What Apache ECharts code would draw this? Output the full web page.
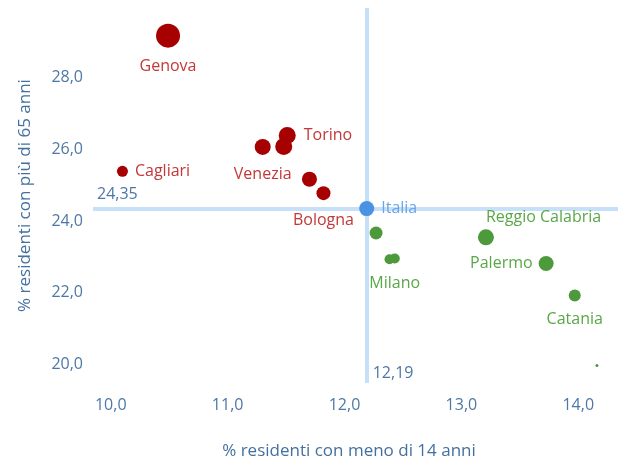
<!DOCTYPE html>
<html>
<head>
<meta charset="utf-8">
<script src="https://cdn.jsdelivr.net/npm/echarts@6/dist/echarts.min.js"></script>
<style>
  html, body { margin: 0; padding: 0; background: #fff; }
</style>
</head>
<body>
<div id="chart" style="width:618px;height:465px;"></div>
<script>
// % under 14 (x), % over 65 (y), marker size, label
var redX = [10.49, 11.51, 11.48, 11.30, 10.10, 11.70, 11.82];
var redY = [29.17, 26.39, 26.08, 26.07, 25.39, 25.17, 24.78];
var redSize = [24, 17, 17, 16, 11, 15, 14];
var redNames = ['Genova', 'Torino', '', 'Venezia', 'Cagliari', '', 'Bologna'];

var greenX = [12.27, 12.385, 12.43, 13.21, 13.725, 13.97, 14.16];
var greenY = [23.67, 22.94, 22.96, 23.55, 22.82, 21.93, 19.98];
var greenSize = [13, 10, 10, 16, 15, 12, 3];
var greenNames = ['', '', 'Milano', 'Reggio Calabria', 'Palermo', 'Catania', ''];

var italia = [12.19, 24.35];
var refX = 12.19;
var refY = 24.35;

var xTicks = [10, 11, 12, 13, 14];
var yTicks = [20, 22, 24, 26, 28];

var fmt = function (v) { return v.toFixed(1).replace('.', ','); };
var fmt2 = function (v) { return v.toFixed(2).replace('.', ','); };

var labelPos = {
  'Genova': { position: 'bottom', distance: 11 },
  'Torino': { position: 'right', distance: 8 },
  'Venezia': { position: 'bottom', distance: 12 },
  'Cagliari': { position: 'right', distance: 7 },
  'Bologna': { position: 'bottom', distance: 12 },
  'Milano': { position: 'bottom', distance: 12 },
  'Reggio Calabria': { position: 'top', align: 'left', distance: 4 },
  'Palermo': { position: 'left', distance: 6 },
  'Catania': { position: 'bottom', distance: 10 }
};

function build(xs, ys, sizes, names, labelColor) {
  return xs.map(function (x, i) {
    var item = { value: [x, ys[i]], symbolSize: sizes[i], name: names[i] };
    if (names[i]) {
      var p = labelPos[names[i]];
      item.label = Object.assign({ show: true, color: labelColor, formatter: '{b}' }, p);
    }
    return item;
  });
}

var font = 'Open Sans';
var chart = echarts.init(document.getElementById('chart'));
chart.setOption({
  animation: false,
  textStyle: { fontFamily: font },
  grid: { left: 93, right: 0, top: 8, bottom: 80 },
  xAxis: {
    type: 'value',
    min: 9.848,
    max: 14.34,
    splitLine: { show: false },
    axisLine: { show: false },
    axisTick: { show: false },
    axisLabel: {
      customValues: xTicks,
      formatter: fmt,
      color: '#4d78a6',
      fontSize: 16,
      fontFamily: font,
      margin: 14
    },
    name: '% residenti con meno di 14 anni',
    nameLocation: 'middle',
    nameGap: 60,
    nameTextStyle: { color: '#44709f', fontSize: 17, fontFamily: font, padding: [0, 13, 0, 0] }
  },
  yAxis: {
    type: 'value',
    min: 19.49,
    max: 29.94,
    splitLine: { show: false },
    axisLine: { show: false },
    axisTick: { show: false },
    axisLabel: {
      customValues: yTicks,
      formatter: fmt,
      color: '#4d78a6',
      fontSize: 16,
      fontFamily: font,
      margin: 10
    },
    name: '% residenti con più di 65 anni',
    nameLocation: 'middle',
    nameGap: 59,
    nameTextStyle: { color: '#44709f', fontSize: 17, fontFamily: font }
  },
  series: [
    {
      type: 'scatter',
      data: [],
      z: 1,
      silent: true,
      markLine: {
        silent: true,
        z: 1,
        symbol: 'none',
        lineStyle: { color: '#c6e0f7', width: 4, type: 'solid' },
        data: [
          {
            yAxis: refY,
            label: {
              show: true,
              position: 'insideStartTop',
              formatter: fmt2(refY),
              color: '#4d78a6',
              fontSize: 16,
              fontFamily: font,
              distance: [4, 6]
            }
          },
          { xAxis: refX, label: { show: false } }
        ]
      },
      markPoint: {
        z: 1,
        symbol: 'circle',
        symbolSize: 0,
        data: [
          {
            coord: [refX, 19.77],
            label: {
              show: true,
              position: 'right',
              distance: 6,
              formatter: fmt2(refX),
              color: '#4d78a6',
              fontSize: 16,
              fontFamily: font
            }
          }
        ]
      }
    },
    {
      type: 'scatter',
      z: 3,
      itemStyle: { color: '#a60000', opacity: 1 },
      label: { fontSize: 16, fontFamily: font },
      data: build(redX, redY, redSize, redNames, '#c23838')
    },
    {
      type: 'scatter',
      z: 3,
      itemStyle: { color: '#4c9a3b', opacity: 1 },
      label: { fontSize: 16, fontFamily: font },
      data: build(greenX, greenY, greenSize, greenNames, '#59a847')
    },
    {
      type: 'scatter',
      z: 4,
      itemStyle: { color: '#4a92e4', opacity: 1 },
      symbolSize: 15,
      label: {
        show: true,
        position: 'right',
        distance: 7,
        formatter: 'Italia',
        color: '#68a5ea',
        fontSize: 16,
        fontFamily: font
      },
      data: [italia]
    }
  ]
});
</script>
</body>
</html>
